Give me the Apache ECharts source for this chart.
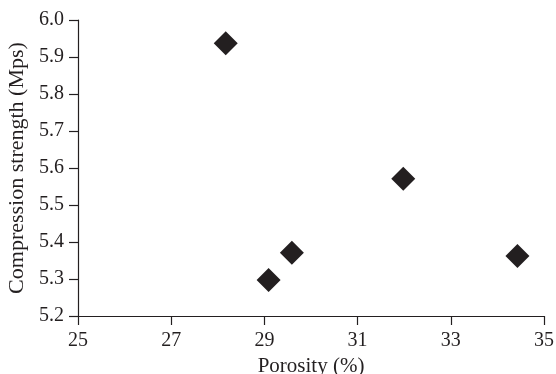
<!DOCTYPE html>
<html><head><meta charset="utf-8">
<script src="https://cdn.jsdelivr.net/npm/echarts@6/dist/echarts.min.js"></script>
<style>html,body{margin:0;padding:0;background:#fff}#c{width:556px;height:374px}</style>
</head><body><div id="c"></div>
<script>
const porosity = [28.17, 29.09, 29.59, 31.98, 34.43];
const strength = [5.937, 5.297, 5.371, 5.571, 5.362];
const xTicks = [25, 27, 29, 31, 33, 35];
const yTicks = [5.2, 5.3, 5.4, 5.5, 5.6, 5.7, 5.8, 5.9, 6.0];

const ink = '#231f20';
const font = '"Liberation Serif","Times New Roman",serif';
const chart = echarts.init(document.getElementById('c'));
chart.setOption({
  animation: false,
  grid: {left: 78, top: 20, right: 12, bottom: 58, containLabel: false, outerBoundsMode: 'none'},
  xAxis: {
    type: 'value', min: xTicks[0], max: xTicks[xTicks.length-1], interval: 2,
    name: 'Porosity (%)', nameLocation: 'middle', nameGap: 40,
    nameTextStyle: {fontFamily: font, fontSize: 21, color: ink},
    axisLine: {lineStyle: {color: ink, width: 1.2}},
    axisTick: {show: true, inside: false, length: 9, lineStyle: {color: ink, width: 1.2}},
    axisLabel: {fontFamily: font, fontSize: 20, color: ink, margin: 15},
    splitLine: {show: false}
  },
  yAxis: {
    type: 'value', min: yTicks[0], max: yTicks[yTicks.length-1], interval: 0.1,
    name: 'Compression strength (Mps)', nameLocation: 'middle', nameGap: 47,
    nameTextStyle: {fontFamily: font, fontSize: 22, color: ink},
    axisLine: {show: true, lineStyle: {color: ink, width: 1.2}},
    axisTick: {show: true, inside: false, length: 9, lineStyle: {color: ink, width: 1.2}},
    axisLabel: {fontFamily: font, fontSize: 20, color: ink, margin: 14,
      formatter: v => v.toFixed(1)},
    splitLine: {show: false}
  },
  series: [{
    type: 'scatter',
    symbol: 'diamond',
    symbolSize: 24,
    itemStyle: {color: ink, opacity: 1},
    data: porosity.map((x, i) => [x, strength[i]])
  }]
});
</script></body></html>
